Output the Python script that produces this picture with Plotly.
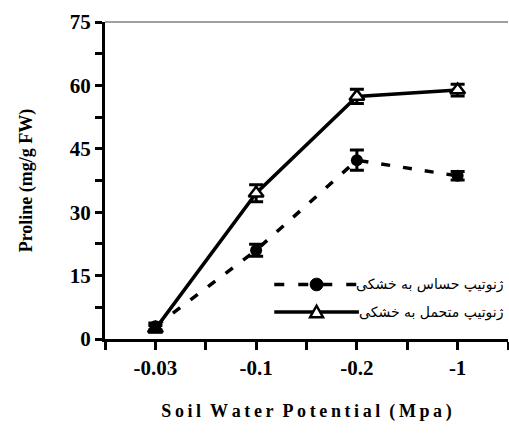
import plotly.graph_objects as go

categories = ["-0.03", "-0.1", "-0.2", "-1"]
sensitive = [3.0, 21.0, 42.3, 38.6]
sensitive_err = [0.8, 1.4, 2.4, 1.0]
tolerant = [2.4, 34.5, 57.4, 58.9]
tolerant_err = [0.8, 2.0, 1.7, 1.4]
y_ticks = [0, 15, 30, 45, 60, 75]
name_sens = "ژنوتیپ حساس به خشکی"
name_tol = "ژنوتیپ متحمل به خشکی"

xpos = list(range(len(categories)))

fig = go.Figure()
fig.add_trace(go.Scatter(
    x=xpos, y=tolerant, mode="lines+markers", name=name_tol,
    line=dict(color="black", width=3.5),
    marker=dict(symbol="triangle-up", size=13, color="white", line=dict(color="black", width=2.5)),
    error_y=dict(type="data", array=tolerant_err, color="black", thickness=3, width=7),
    showlegend=False))
fig.add_trace(go.Scatter(
    x=xpos, y=sensitive, mode="lines+markers", name=name_sens,
    line=dict(color="black", width=3.5, dash="9px,13px"),
    marker=dict(symbol="circle", size=12, color="black"),
    error_y=dict(type="data", array=sensitive_err, color="black", thickness=3, width=7),
    showlegend=False))

# custom legend (paper coordinates)
legend_items = [(name_sens, "dash", "circle"), (name_tol, "solid", "tri")]
leg_y = [0.172, 0.085]
x0, x1, xm = 0.42, 0.63, 0.525
for (nm, ds, sym), ly in zip(legend_items, leg_y):
    fig.add_shape(type="line", xref="paper", yref="paper", x0=x0, x1=x1, y0=ly, y1=ly,
                  line=dict(color="black", width=3.5, dash="10px,14px" if ds == "dash" else "solid"))
    if sym == "circle":
        fig.add_shape(type="circle", xref="paper", yref="paper",
                      x0=xm - 0.016, x1=xm + 0.016, y0=ly - 0.02, y1=ly + 0.02,
                      fillcolor="black", line=dict(color="black", width=1))
    else:
        fig.add_shape(type="path", xref="paper", yref="paper",
                      path=f"M {xm-0.016} {ly-0.016} L {xm+0.016} {ly-0.016} L {xm} {ly+0.02} Z",
                      fillcolor="white", line=dict(color="black", width=2.5))
    fig.add_annotation(xref="paper", yref="paper", x=0.995, y=ly, text=nm, showarrow=False,
                       xanchor="right", yanchor="middle",
                       font=dict(family="DejaVu Serif, Liberation Serif, DejaVu Sans", size=14, color="black"))

# top thin gray border
fig.add_shape(type="line", xref="paper", yref="paper", x0=0, x1=1, y0=1, y1=1,
              line=dict(color="#808080", width=1.5))

xtitle = "Soil Water Potential (Mpa)"
xtitle_spaced = "\u2002".join("\u2009".join(w) for w in xtitle.split(" "))

fig.update_layout(
    width=509, height=436,
    margin=dict(l=105, r=1, t=22, b=97),
    plot_bgcolor="white", paper_bgcolor="white",
    font=dict(family="Liberation Serif", color="black"),
    xaxis=dict(
        range=[-0.5, 3.5], tickmode="array",
        tickvals=[-0.5, 0, 0.5, 1, 1.5, 2, 2.5, 3, 3.5],
        ticktext=["", categories[0], "", categories[1], "", categories[2], "", categories[3], ""],
        ticks="outside", ticklen=8, tickwidth=3, tickcolor="black",
        showline=True, linecolor="black", linewidth=3, showgrid=False, zeroline=False,
        tickfont=dict(family="Liberation Serif", size=21, color="black", weight="bold"),
        title=dict(text=xtitle_spaced,
                   font=dict(family="Liberation Serif", size=18, color="black", weight="bold"), standoff=26),
    ),
    yaxis=dict(
        range=[0, 75], tickmode="array", tickvals=y_ticks,
        ticks="outside", ticklen=7, tickwidth=3, tickcolor="black",
        minor=dict(tickvals=[7.5, 22.5, 37.5, 52.5, 67.5], ticks="outside", ticklen=7, tickwidth=3, tickcolor="black"),
        showline=True, linecolor="black", linewidth=3, showgrid=False, zeroline=False,
        tickfont=dict(family="Liberation Serif", size=21, color="black", weight="bold"),
        title=dict(text="Proline (mg/g FW)",
                   font=dict(family="Liberation Serif", size=18, color="black", weight="bold"), standoff=33),
    ),
)

fig.write_html("out.html", config={"displayModeBar": False},
               post_script="document.body.style.margin='0';document.body.style.overflow='hidden';")
